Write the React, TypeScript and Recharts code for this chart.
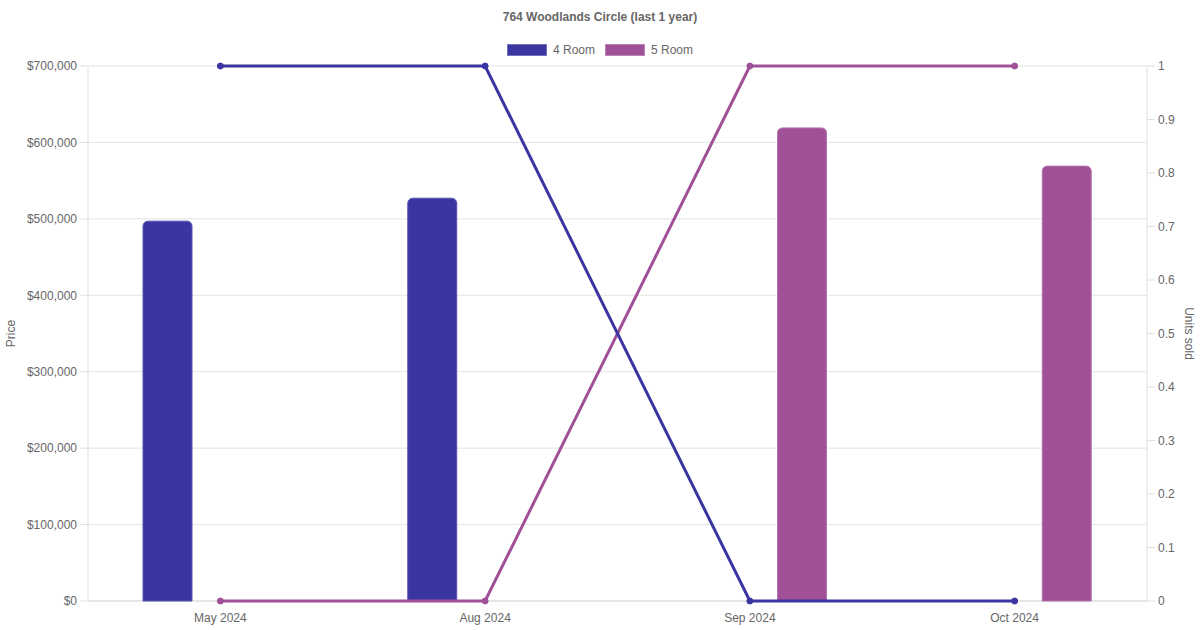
import React from 'react';
import { ComposedChart, Bar, Line, XAxis, YAxis, CartesianGrid, Label } from 'recharts';

const months = ['May 2024', 'Aug 2024', 'Sep 2024', 'Oct 2024'];
const price4Room = [497000, 527000, 0, 0];
const price5Room = [0, 0, 619000, 569000];
const units4Room = [1, 1, 0, 0];
const units5Room = [0, 0, 1, 1];
const priceTicks = [0, 100000, 200000, 300000, 400000, 500000, 600000, 700000];
const unitTicks = [0, 0.1, 0.2, 0.3, 0.4, 0.5, 0.6, 0.7, 0.8, 0.9, 1];

const BLUE = '#3a35a0';
const PURPLE = '#9f5096';
const FONT = '"Liberation Sans", Arial, Helvetica, sans-serif';
const CHART_H = 630;
const X_AXIS_H = 29;

const data = months.map((m, i) => ({
  month: m,
  p4: price4Room[i],
  p5: price5Room[i],
  u4: units4Room[i],
  u5: units5Room[i],
}));

if (typeof document !== 'undefined') document.body.style.margin = '0';

const tickStyle = { fill: '#666', fontSize: 12, fontFamily: FONT };

function SideLabel({ viewBox, text, side }: any) {
  const cy = viewBox.y + viewBox.height / 2;
  const cx = side === 'left' ? 11 : 1189;
  const angle = side === 'left' ? -90 : 90;
  return (
    <text
      x={cx}
      y={cy}
      transform={`rotate(${angle} ${cx} ${cy})`}
      textAnchor="middle"
      dominantBaseline="central"
      fill="#666"
      fontSize={12}
      fontFamily={FONT}
    >
      {text}
    </text>
  );
}

function LegendItem({ color, label }: { color: string; label: string }) {
  return (
    <span style={{ display: 'inline-flex', alignItems: 'center', margin: '0 5px' }}>
      <span
        style={{
          display: 'inline-block',
          width: 40,
          height: 12,
          background: color,
          boxSizing: 'border-box',
          border: '1px solid rgba(255,255,255,0.3)',
          marginRight: 6,
        }}
      />
      <span style={{ fontSize: 12, color: '#666' }}>{label}</span>
    </span>
  );
}

// grid line renderer: the baseline gets the darker axis colour
function GridLine(p: any) {
  const isBase = Math.abs(p.y1 - (CHART_H - X_AXIS_H)) < 1;
  return (
    <line
      key={p.key}
      x1={p.x1}
      x2={p.x2}
      y1={p.y1}
      y2={p.y2}
      stroke={isBase ? '#cccccc' : '#e4e4e4'}
      strokeWidth={1}
    />
  );
}

export default function App() {
  return (
    <div style={{ position: 'relative', width: 1200, height: CHART_H, fontFamily: FONT, background: '#fff' }}>
      <div
        style={{
          position: 'absolute',
          top: 10,
          left: 0,
          width: 1200,
          textAlign: 'center',
          fontSize: 12,
          fontWeight: 'bold',
          color: '#666',
        }}
      >
        764 Woodlands Circle (last 1 year)
      </div>
      <div
        style={{
          position: 'absolute',
          top: 42,
          left: 0,
          width: 1200,
          display: 'flex',
          justifyContent: 'center',
          lineHeight: '16px',
        }}
      >
        <LegendItem color={BLUE} label="4 Room" />
        <LegendItem color={PURPLE} label="5 Room" />
      </div>
      <ComposedChart
        width={1200}
        height={CHART_H}
        data={data}
        margin={{ top: 66, right: 0, bottom: 0, left: 0 }}
        barGap={56}
      >
        <CartesianGrid yAxisId="left" vertical={false} horizontal={(p: any) => <GridLine {...p} />} />
        <XAxis
          dataKey="month"
          height={X_AXIS_H}
          tick={tickStyle}
          tickLine={false}
          tickSize={8}
          tickMargin={4}
          axisLine={false}
        />
        <YAxis
          yAxisId="left"
          orientation="left"
          width={88}
          domain={[0, 700000]}
          ticks={priceTicks}
          interval={0}
          tick={tickStyle}
          tickSize={8}
          tickMargin={3}
          tickLine={{ stroke: '#e0e0e0' }}
          axisLine={{ stroke: '#e0e0e0' }}
          tickFormatter={(v: number) => `$${v.toLocaleString('en-US')}`}
        >
          <Label content={(props: any) => <SideLabel {...props} text="Price" side="left" />} />
        </YAxis>
        <YAxis
          yAxisId="right"
          orientation="right"
          width={53}
          domain={[0, 1]}
          ticks={unitTicks}
          interval={0}
          tick={tickStyle}
          tickSize={8}
          tickMargin={3}
          tickLine={{ stroke: '#e0e0e0' }}
          axisLine={{ stroke: '#e0e0e0' }}
          tickFormatter={(v: number) => String(+v.toFixed(1))}
        >
          <Label content={(props: any) => <SideLabel {...props} text="Units sold" side="right" />} />
        </YAxis>
        <Bar
          yAxisId="left"
          dataKey="p4"
          name="4 Room"
          fill={BLUE}
          stroke="#5a56b3"
          strokeWidth={1}
          barSize={49}
          radius={[5, 5, 0, 0]}
          isAnimationActive={false}
        />
        <Bar
          yAxisId="left"
          dataKey="p5"
          name="5 Room"
          fill={PURPLE}
          stroke="#b574ac"
          strokeWidth={1}
          barSize={49}
          radius={[5, 5, 0, 0]}
          isAnimationActive={false}
        />
        <Line
          yAxisId="right"
          dataKey="u5"
          type="linear"
          stroke={PURPLE}
          strokeWidth={3}
          dot={{ r: 3, fill: PURPLE, stroke: PURPLE, strokeWidth: 1 }}
          activeDot={false}
          isAnimationActive={false}
        />
        <Line
          yAxisId="right"
          dataKey="u4"
          type="linear"
          stroke={BLUE}
          strokeWidth={3}
          dot={{ r: 3, fill: BLUE, stroke: BLUE, strokeWidth: 1 }}
          activeDot={false}
          isAnimationActive={false}
        />
      </ComposedChart>
    </div>
  );
}
